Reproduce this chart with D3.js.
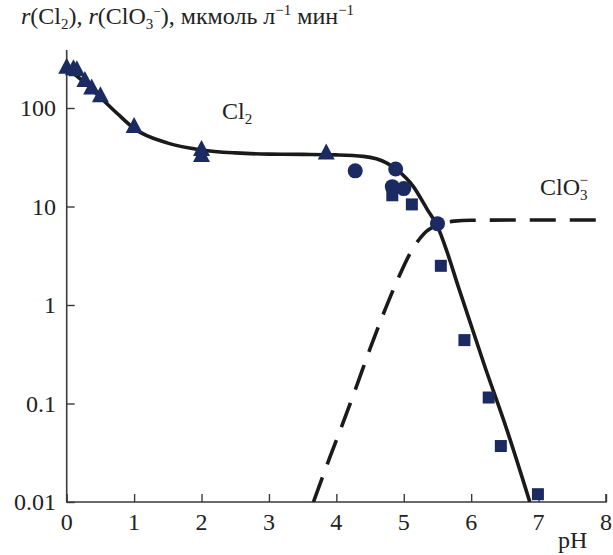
<!DOCTYPE html>
<html>
<head>
<meta charset="utf-8">
<script src="https://cdn.jsdelivr.net/npm/d3@7"></script>
<style>
  body { margin: 0; background: #fff; }
  svg { font-family: "Liberation Serif", "Times New Roman", serif; }
</style>
</head>
<body>
<div id="graph"></div>
<script>
const w = 613;
const h = 555;
const markColor = "#1b2a60";
const lineColor = "#1a1a1a";

// measured points
const triangles = [[0, 260], [0.1, 250], [0.15, 245], [0.27, 190], [0.37, 160], [0.5, 133], [1, 65], [2, 38], [2, 33], [3.85, 35]];
const circles = [[4.28, 23], [4.88, 24], [4.83, 15.9], [5.0, 15.2], [5.5, 6.7]];
const squares = [[4.83, 13], [5.12, 10.5], [5.55, 2.5], [5.9, 0.44], [6.26, 0.115], [6.44, 0.037], [6.99, 0.012]];

// fitted curves
const cl2Curve = [[0, 255], [0.25, 185], [0.5, 128], [0.75, 88], [1, 62], [1.5, 44], [2, 37.5], [2.5, 35], [3, 34], [3.5, 33.8], [4, 33.4], [4.4, 32.3], [4.75, 27.6], [4.9, 23.5], [5.14, 16], [5.35, 9.3], [5.5, 6.3], [5.64, 3.5], [5.8, 1.6], [6.2, 0.24], [6.53, 0.054], [6.87, 0.01]];
const clo3Curve = [[3.66, 0.01], [3.9, 0.028], [4.1, 0.064], [4.3, 0.15], [4.5, 0.36], [4.7, 0.82], [4.9, 1.75], [5.1, 3.4], [5.3, 5.3], [5.5, 6.5], [5.75, 7.1], [6, 7.25], [7, 7.3], [8, 7.3]];

const xTicks = [0, 1, 2, 3, 4, 5, 6, 7, 8];
const yTicks = [0.01, 0.1, 1, 10, 100];
const yTickLabels = ["0.01", "0.1", "1", "10", "100"];

const svg = d3.select("#graph").append("svg").attr("width", w).attr("height", h);

const x = d3.scaleLinear().domain([0, 8]).range([66.7, 606]);
const y = d3.scaleLog().domain([0.01, 100]).range([502, 108]);
const yTop = 50;

svg.append("clipPath").attr("id", "plot")
  .append("rect").attr("x", x(0)).attr("y", 0).attr("width", x(8) - x(0)).attr("height", y(0.01));

// axes
const xAxis = svg.append("g").attr("transform", `translate(0,${y(0.01)})`)
  .call(d3.axisTop(x).tickValues(xTicks).tickSize(8).tickFormat(""));
const yAxis = svg.append("g").attr("transform", `translate(${x(0)},0)`)
  .call(d3.axisRight(y).tickValues(yTicks).tickSize(8).tickFormat(""));
[xAxis, yAxis].forEach((g) => {
  g.select(".domain").remove();
  g.selectAll("line").attr("stroke", "#3a3a3a").attr("stroke-width", 1.4);
});
svg.append("path")
  .attr("d", `M${x(0)},${yTop}V${y(0.01)}H${x(8)}V${y(0.01) - 8}`)
  .attr("fill", "none").attr("stroke", "#3a3a3a").attr("stroke-width", 1.6);

svg.append("g").selectAll("text").data(xTicks).join("text")
  .attr("x", (d) => x(d)).attr("y", 530)
  .attr("text-anchor", "middle").attr("font-size", 24).attr("fill", "#222")
  .text((d) => d);
svg.append("g").selectAll("text").data(yTicks).join("text")
  .attr("x", 56).attr("y", (d) => y(d) + 8)
  .attr("text-anchor", "end").attr("font-size", 24).attr("fill", "#222")
  .text((d, i) => yTickLabels[i]);
svg.append("text").attr("x", 558).attr("y", 548).attr("font-size", 24).attr("fill", "#222").text("pH");

// curves
const line = d3.line().x((d) => x(d[0])).y((d) => y(d[1])).curve(d3.curveMonotoneX);
const curves = svg.append("g").attr("clip-path", "url(#plot)");
curves.append("path").attr("d", line(cl2Curve))
  .attr("fill", "none").attr("stroke", lineColor).attr("stroke-width", 3.6);
curves.append("path").attr("d", line(clo3Curve))
  .attr("fill", "none").attr("stroke", lineColor).attr("stroke-width", 3.6)
  .attr("stroke-dasharray", "26,14");

// markers
const marks = svg.append("g").attr("fill", markColor);
marks.selectAll(".tri").data(triangles).join("path").attr("class", "tri")
  .attr("transform", (d) => `translate(${x(d[0])},${y(d[1])})`)
  .attr("d", "M0,-9.5L8.5,6.5H-8.5Z");
marks.selectAll(".dot").data(circles).join("circle").attr("class", "dot")
  .attr("cx", (d) => x(d[0])).attr("cy", (d) => y(d[1])).attr("r", 7.5);
marks.selectAll(".sq").data(squares).join("rect").attr("class", "sq")
  .attr("x", (d) => x(d[0]) - 6).attr("y", (d) => y(d[1]) - 6)
  .attr("width", 12).attr("height", 12);

// labels
const t = svg.append("text").attr("x", 21).attr("y", 24).attr("font-size", 24).attr("fill", "#222");
t.append("tspan").attr("font-style", "italic").text("r");
t.append("tspan").text("(Cl");
t.append("tspan").attr("font-size", 15).attr("dy", 5).text("2");
t.append("tspan").attr("dy", -5).text("), ");
t.append("tspan").attr("font-style", "italic").text("r");
t.append("tspan").text("(ClO");
t.append("tspan").attr("font-size", 15).attr("dy", 5).text("3");
t.append("tspan").attr("font-size", 13).attr("dy", -13).text("−");
t.append("tspan").attr("dy", 8).text("), мкмоль л");
t.append("tspan").attr("font-size", 15).attr("dy", -9).text("−1");
t.append("tspan").attr("dy", 9).text(" мин");
t.append("tspan").attr("font-size", 15).attr("dy", -9).text("−1");

const l1 = svg.append("text").attr("x", 222).attr("y", 119).attr("font-size", 24).attr("fill", "#222");
l1.append("tspan").text("Cl");
l1.append("tspan").attr("font-size", 15).attr("dy", 5).text("2");

const l2 = svg.append("text").attr("x", 540).attr("y", 195).attr("font-size", 24).attr("fill", "#222");
l2.append("tspan").text("ClO");
l2.append("tspan").attr("font-size", 15).attr("dy", 5).text("3");
l2.append("tspan").attr("font-size", 15).attr("dx", -8).attr("dy", -15).text("−");
</script>
</body>
</html>
